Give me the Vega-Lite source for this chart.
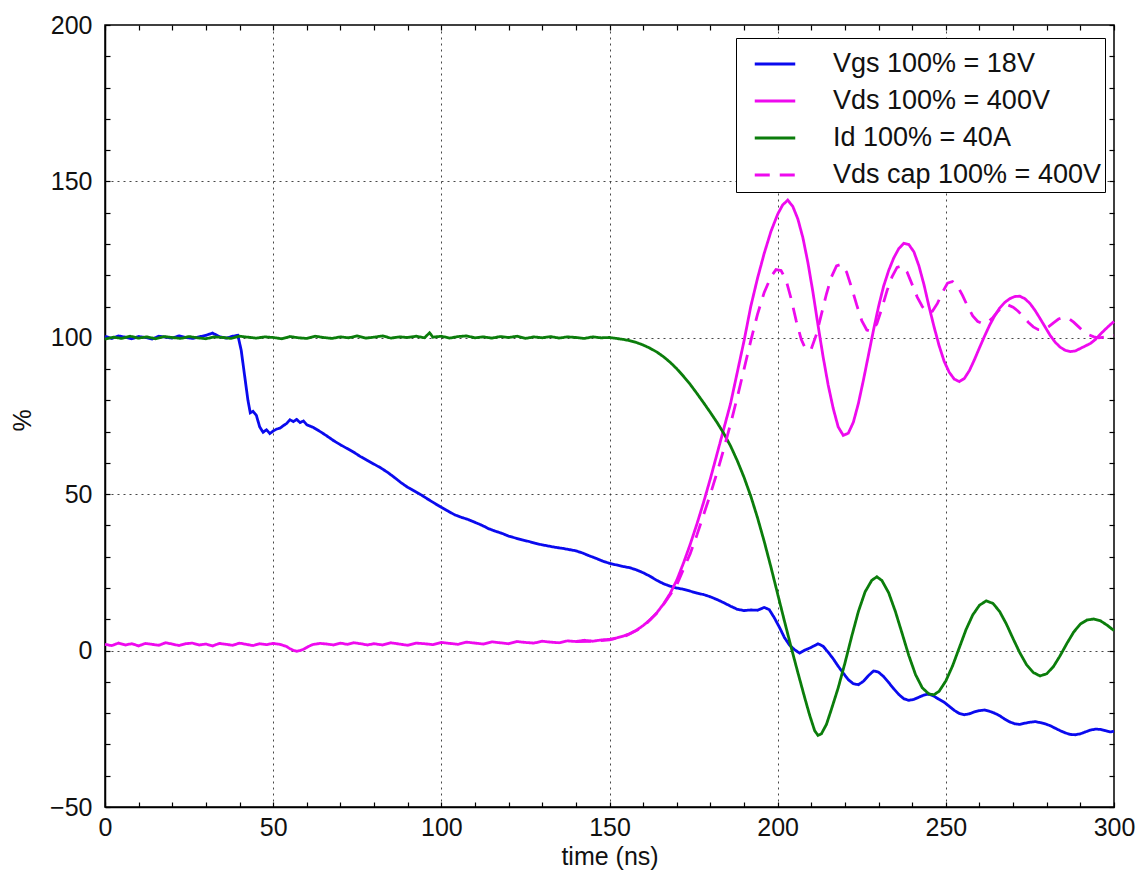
{
  "$schema": "https://vega.github.io/schema/vega-lite/v6.json",
  "width": 1009,
  "height": 782,
  "autosize": {"type": "none"},
  "padding": {"left": 105, "top": 25, "right": 31, "bottom": 76},
  "background": "white",
  "config": {
    "font": "Liberation Sans",
    "view": {"stroke": "black", "strokeWidth": 1.5}
  },
  "datasets": {
    "vgs": [
      {"t":0,"pct":100.5},{"t":2,"pct":99.8},{"t":4,"pct":100.6},{"t":6,"pct":100.2},{"t":8,"pct":99.7},{"t":10,"pct":100.4},{"t":12,"pct":100.1},{"t":14,"pct":99.6},{"t":16,"pct":100.5},{"t":18,"pct":100.2},{"t":20,"pct":99.9},{"t":22,"pct":100.6},{"t":24,"pct":100.1},{"t":26,"pct":99.8},{"t":28,"pct":100.3},{"t":30,"pct":100.8},{"t":32,"pct":101.5},{"t":34,"pct":100.4},{"t":36,"pct":99.9},{"t":38,"pct":100.5},{"t":39.5,"pct":100.8},{"t":40.5,"pct":96},{"t":41.5,"pct":88},{"t":42.5,"pct":80},{"t":43.2,"pct":76},{"t":44,"pct":76.5},{"t":45,"pct":75.2},{"t":46,"pct":71.5},{"t":47,"pct":69.8},{"t":48,"pct":70.6},{"t":49,"pct":69.4},{"t":50,"pct":70.2},{"t":51,"pct":70.8},{"t":52,"pct":71.1},{"t":53,"pct":71.9},{"t":54,"pct":72.6},{"t":55,"pct":73.8},{"t":56,"pct":73.2},{"t":57,"pct":73.9},{"t":58,"pct":72.9},{"t":59,"pct":73.4},{"t":60,"pct":72.2},{"t":62,"pct":71.3},{"t":64,"pct":70.0},{"t":66,"pct":68.6},{"t":68,"pct":67.1},{"t":70,"pct":65.8},{"t":72,"pct":64.6},{"t":74,"pct":63.4},{"t":76,"pct":62.0},{"t":78,"pct":60.8},{"t":80,"pct":59.6},{"t":82,"pct":58.4},{"t":84,"pct":57.0},{"t":86,"pct":55.4},{"t":88,"pct":53.7},{"t":90,"pct":52.2},{"t":92,"pct":51.0},{"t":94,"pct":49.8},{"t":96,"pct":48.4},{"t":98,"pct":47.1},{"t":100,"pct":45.8},{"t":102,"pct":44.6},{"t":104,"pct":43.4},{"t":106,"pct":42.6},{"t":108,"pct":41.9},{"t":110,"pct":41.0},{"t":112,"pct":40.1},{"t":114,"pct":39.0},{"t":116,"pct":38.2},{"t":118,"pct":37.5},{"t":120,"pct":36.6},{"t":122,"pct":36.0},{"t":124,"pct":35.4},{"t":126,"pct":34.9},{"t":128,"pct":34.3},{"t":130,"pct":33.8},{"t":132,"pct":33.4},{"t":134,"pct":33.0},{"t":136,"pct":32.7},{"t":138,"pct":32.3},{"t":140,"pct":31.9},{"t":142,"pct":31.2},{"t":144,"pct":30.3},{"t":146,"pct":29.5},{"t":148,"pct":28.6},{"t":150,"pct":27.9},{"t":152,"pct":27.4},{"t":154,"pct":26.9},{"t":156,"pct":26.5},{"t":158,"pct":25.8},{"t":160,"pct":24.9},{"t":162,"pct":23.8},{"t":164,"pct":22.5},{"t":166,"pct":21.4},{"t":168,"pct":20.6},{"t":170,"pct":20.0},{"t":172,"pct":19.6},{"t":174,"pct":19.0},{"t":176,"pct":18.4},{"t":178,"pct":17.9},{"t":180,"pct":17.2},{"t":182,"pct":16.3},{"t":184,"pct":15.3},{"t":186,"pct":14.2},{"t":188,"pct":13.2},{"t":190,"pct":12.8},{"t":192,"pct":13.0},{"t":194,"pct":12.9},{"t":196,"pct":13.8},{"t":197.5,"pct":13.1},{"t":199,"pct":10.5},{"t":200.5,"pct":7.5},{"t":202,"pct":4.2},{"t":203.5,"pct":1.8},{"t":205,"pct":0.3},{"t":206.5,"pct":-0.8},{"t":208,"pct":0.1},{"t":209.5,"pct":0.8},{"t":211,"pct":1.6},{"t":212,"pct":2.2},{"t":213.5,"pct":1.4},{"t":215,"pct":-0.5},{"t":216.5,"pct":-2.6},{"t":218,"pct":-5.0},{"t":219.5,"pct":-7.2},{"t":221,"pct":-9.3},{"t":222.5,"pct":-10.6},{"t":224,"pct":-10.9},{"t":225.5,"pct":-9.8},{"t":227,"pct":-8.0},{"t":228.5,"pct":-6.5},{"t":230,"pct":-6.9},{"t":231.5,"pct":-8.3},{"t":233,"pct":-10.2},{"t":234.5,"pct":-12.2},{"t":236,"pct":-14.0},{"t":237.5,"pct":-15.4},{"t":239,"pct":-15.9},{"t":240.5,"pct":-15.6},{"t":242,"pct":-14.9},{"t":243.5,"pct":-14.2},{"t":245,"pct":-13.9},{"t":246.5,"pct":-14.6},{"t":248,"pct":-15.6},{"t":249.5,"pct":-16.5},{"t":251,"pct":-17.8},{"t":252.5,"pct":-19.1},{"t":254,"pct":-20.1},{"t":255.5,"pct":-20.5},{"t":257,"pct":-20.2},{"t":258.5,"pct":-19.6},{"t":260,"pct":-19.2},{"t":261.5,"pct":-19.0},{"t":263,"pct":-19.4},{"t":264.5,"pct":-20.0},{"t":266,"pct":-20.8},{"t":267.5,"pct":-21.9},{"t":269,"pct":-22.8},{"t":270.5,"pct":-23.4},{"t":272,"pct":-23.6},{"t":273.5,"pct":-23.2},{"t":275,"pct":-22.9},{"t":276.5,"pct":-22.7},{"t":278,"pct":-23.0},{"t":279.5,"pct":-23.4},{"t":281,"pct":-24.0},{"t":282.5,"pct":-24.8},{"t":284,"pct":-25.6},{"t":285.5,"pct":-26.3},{"t":287,"pct":-26.8},{"t":288.5,"pct":-26.9},{"t":290,"pct":-26.6},{"t":291.5,"pct":-26.0},{"t":293,"pct":-25.4},{"t":294.5,"pct":-25.1},{"t":296,"pct":-25.2},{"t":297.5,"pct":-25.6},{"t":299,"pct":-26.0},{"t":300,"pct":-25.8}
    ],
    "vds": [
      {"t":0,"pct":2.0},{"t":2,"pct":1.6},{"t":4,"pct":2.4},{"t":6,"pct":1.8},{"t":8,"pct":2.2},{"t":10,"pct":1.5},{"t":12,"pct":2.3},{"t":14,"pct":2.0},{"t":16,"pct":1.7},{"t":18,"pct":2.5},{"t":20,"pct":2.1},{"t":22,"pct":1.6},{"t":24,"pct":2.2},{"t":26,"pct":2.4},{"t":28,"pct":1.8},{"t":30,"pct":2.1},{"t":32,"pct":1.5},{"t":34,"pct":2.3},{"t":36,"pct":2.0},{"t":38,"pct":1.7},{"t":40,"pct":2.4},{"t":42,"pct":2.0},{"t":44,"pct":1.6},{"t":46,"pct":2.2},{"t":48,"pct":1.9},{"t":50,"pct":2.3},{"t":52,"pct":2.0},{"t":54,"pct":1.3},{"t":55,"pct":0.6},{"t":56,"pct":0.1},{"t":57,"pct":-0.2},{"t":58,"pct":0.0},{"t":59,"pct":0.4},{"t":60,"pct":1.0},{"t":61,"pct":1.6},{"t":62,"pct":2.0},{"t":64,"pct":2.3},{"t":66,"pct":2.1},{"t":68,"pct":1.8},{"t":70,"pct":2.4},{"t":72,"pct":2.0},{"t":74,"pct":2.5},{"t":76,"pct":2.2},{"t":78,"pct":1.8},{"t":80,"pct":2.2},{"t":82.5,"pct":1.8},{"t":85,"pct":2.5},{"t":87.5,"pct":2.1},{"t":90,"pct":1.7},{"t":92.5,"pct":2.4},{"t":95,"pct":2.2},{"t":97.5,"pct":1.9},{"t":100,"pct":2.6},{"t":102.5,"pct":2.3},{"t":105,"pct":2.0},{"t":107.5,"pct":2.7},{"t":110,"pct":2.4},{"t":112.5,"pct":2.1},{"t":115,"pct":2.8},{"t":117.5,"pct":2.5},{"t":120,"pct":2.2},{"t":122.5,"pct":2.9},{"t":125,"pct":2.6},{"t":127.5,"pct":2.4},{"t":130,"pct":3.0},{"t":132.5,"pct":2.7},{"t":135,"pct":2.5},{"t":137.5,"pct":3.1},{"t":140,"pct":2.9},{"t":142.5,"pct":3.3},{"t":145,"pct":3.0},{"t":147.5,"pct":3.4},{"t":150,"pct":3.6},{"t":152,"pct":4.0},{"t":154,"pct":4.6},{"t":156,"pct":5.4},{"t":158,"pct":6.5},{"t":160,"pct":8.0},{"t":162,"pct":9.8},{"t":164,"pct":12.0},{"t":166,"pct":14.8},{"t":168,"pct":18.2},{"t":170,"pct":22.5},{"t":172,"pct":28.0},{"t":174,"pct":34.0},{"t":176,"pct":40.5},{"t":178,"pct":47.5},{"t":180,"pct":55.0},{"t":182,"pct":63.0},{"t":184,"pct":71.0},{"t":186,"pct":79.0},{"t":188,"pct":89.0},{"t":190,"pct":99.0},{"t":192,"pct":110.0},{"t":194,"pct":119.0},{"t":196,"pct":127.0},{"t":198,"pct":134.0},{"t":200,"pct":139.5},{"t":201.5,"pct":142.5},{"t":203,"pct":144.0},{"t":204.5,"pct":142.0},{"t":206,"pct":138.0},{"t":207.5,"pct":132.0},{"t":209,"pct":124.0},{"t":210.5,"pct":114.5},{"t":212,"pct":104.0},{"t":213.5,"pct":94.0},{"t":215,"pct":85.0},{"t":216.5,"pct":77.5},{"t":218,"pct":71.5},{"t":219.5,"pct":68.8},{"t":221,"pct":69.5},{"t":222.5,"pct":73.0},{"t":224,"pct":79.0},{"t":225.5,"pct":86.5},{"t":227,"pct":94.5},{"t":228.5,"pct":102.5},{"t":230,"pct":110.0},{"t":231.5,"pct":116.5},{"t":233,"pct":121.5},{"t":234.5,"pct":125.5},{"t":236,"pct":128.5},{"t":237.5,"pct":130.2},{"t":239,"pct":129.8},{"t":240.5,"pct":127.5},{"t":242,"pct":123.0},{"t":243.5,"pct":117.0},{"t":245,"pct":110.0},{"t":246.5,"pct":103.5},{"t":248,"pct":97.5},{"t":249.5,"pct":92.5},{"t":251,"pct":89.0},{"t":252.5,"pct":86.8},{"t":254,"pct":86.0},{"t":255.5,"pct":87.0},{"t":257,"pct":89.5},{"t":258.5,"pct":93.0},{"t":260,"pct":96.8},{"t":261.5,"pct":100.5},{"t":263,"pct":104.0},{"t":264.5,"pct":107.0},{"t":266,"pct":109.5},{"t":267.5,"pct":111.3},{"t":269,"pct":112.5},{"t":270.5,"pct":113.2},{"t":272,"pct":113.3},{"t":273.5,"pct":112.5},{"t":275,"pct":111.0},{"t":276.5,"pct":108.8},{"t":278,"pct":106.2},{"t":279.5,"pct":103.5},{"t":281,"pct":100.8},{"t":282.5,"pct":98.6},{"t":284,"pct":97.0},{"t":285.5,"pct":96.0},{"t":287,"pct":95.6},{"t":288.5,"pct":95.8},{"t":290,"pct":96.6},{"t":291.5,"pct":97.4},{"t":293,"pct":98.2},{"t":294.5,"pct":99.5},{"t":296,"pct":101.2},{"t":297.5,"pct":102.8},{"t":299,"pct":104.3},{"t":300,"pct":105.2}
    ],
    "id": [
      {"t":0,"pct":99.6},{"t":2.5,"pct":100.2},{"t":5,"pct":99.8},{"t":7.5,"pct":100.5},{"t":10,"pct":99.9},{"t":12.5,"pct":100.3},{"t":15,"pct":99.7},{"t":17.5,"pct":100.4},{"t":20,"pct":100.1},{"t":22.5,"pct":99.8},{"t":25,"pct":100.4},{"t":27.5,"pct":100.0},{"t":30,"pct":99.7},{"t":32.5,"pct":100.3},{"t":35,"pct":100.1},{"t":37.5,"pct":99.8},{"t":40,"pct":100.5},{"t":42.5,"pct":100.2},{"t":45,"pct":99.9},{"t":47.5,"pct":100.3},{"t":50,"pct":100.1},{"t":52.5,"pct":99.7},{"t":55,"pct":100.4},{"t":57.5,"pct":100.0},{"t":60,"pct":99.8},{"t":62.5,"pct":100.5},{"t":65,"pct":100.1},{"t":67.5,"pct":99.8},{"t":70,"pct":100.3},{"t":72.5,"pct":100.0},{"t":75,"pct":100.6},{"t":77.5,"pct":99.9},{"t":80,"pct":100.2},{"t":82.5,"pct":100.6},{"t":85,"pct":99.9},{"t":87.5,"pct":100.3},{"t":90,"pct":100.1},{"t":92.5,"pct":100.5},{"t":95,"pct":100.0},{"t":96.5,"pct":101.6},{"t":97.5,"pct":100.2},{"t":100,"pct":100.5},{"t":102.5,"pct":99.9},{"t":105,"pct":100.4},{"t":107.5,"pct":100.6},{"t":110,"pct":100.0},{"t":112.5,"pct":100.3},{"t":115,"pct":99.9},{"t":117.5,"pct":100.4},{"t":120,"pct":100.1},{"t":122.5,"pct":100.5},{"t":125,"pct":99.8},{"t":127.5,"pct":100.3},{"t":130,"pct":100.0},{"t":132.5,"pct":100.4},{"t":135,"pct":99.9},{"t":137.5,"pct":100.3},{"t":140,"pct":100.1},{"t":142.5,"pct":99.8},{"t":145,"pct":100.3},{"t":147.5,"pct":100.0},{"t":150,"pct":100.1},{"t":152,"pct":99.8},{"t":154,"pct":99.5},{"t":156,"pct":99.1},{"t":158,"pct":98.5},{"t":160,"pct":97.7},{"t":162,"pct":96.7},{"t":164,"pct":95.5},{"t":166,"pct":94.0},{"t":168,"pct":92.2},{"t":170,"pct":90.1},{"t":172,"pct":87.7},{"t":174,"pct":85.1},{"t":176,"pct":82.2},{"t":178,"pct":79.2},{"t":180,"pct":76.1},{"t":182,"pct":72.9},{"t":184,"pct":69.4},{"t":186,"pct":65.4},{"t":188,"pct":60.7},{"t":190,"pct":55.4},{"t":192,"pct":49.4},{"t":194,"pct":42.5},{"t":196,"pct":34.9},{"t":198,"pct":26.7},{"t":200,"pct":18.1},{"t":202,"pct":9.5},{"t":204,"pct":1.1},{"t":206,"pct":-7.0},{"t":208,"pct":-14.9},{"t":209.5,"pct":-20.6},{"t":211,"pct":-25.6},{"t":212,"pct":-27.1},{"t":213,"pct":-26.6},{"t":214.5,"pct":-23.6},{"t":216,"pct":-18.7},{"t":218,"pct":-11.9},{"t":220,"pct":-4.0},{"t":222,"pct":4.5},{"t":224,"pct":12.5},{"t":226,"pct":18.8},{"t":228,"pct":22.5},{"t":229.5,"pct":23.6},{"t":231,"pct":22.4},{"t":233,"pct":18.5},{"t":235,"pct":12.5},{"t":237,"pct":5.5},{"t":239,"pct":-1.6},{"t":241,"pct":-7.7},{"t":243,"pct":-11.9},{"t":245,"pct":-13.9},{"t":246.5,"pct":-14.1},{"t":248,"pct":-13.0},{"t":250,"pct":-9.7},{"t":252,"pct":-4.9},{"t":254,"pct":0.9},{"t":256,"pct":6.7},{"t":258,"pct":11.4},{"t":260,"pct":14.5},{"t":262,"pct":15.9},{"t":264,"pct":15.1},{"t":266,"pct":12.5},{"t":268,"pct":8.5},{"t":270,"pct":3.8},{"t":272,"pct":-0.7},{"t":274,"pct":-4.5},{"t":276,"pct":-7.0},{"t":278,"pct":-8.1},{"t":280,"pct":-7.4},{"t":282,"pct":-5.1},{"t":284,"pct":-1.6},{"t":286,"pct":2.3},{"t":288,"pct":5.9},{"t":290,"pct":8.5},{"t":292,"pct":9.8},{"t":294,"pct":10.1},{"t":296,"pct":9.5},{"t":298,"pct":8.1},{"t":300,"pct":6.4}
    ],
    "cap": [
      {"t":140,"pct":2.9},{"t":145,"pct":3.0},{"t":150,"pct":3.4},{"t":155,"pct":4.8},{"t":160,"pct":7.6},{"t":165,"pct":13.0},{"t":170,"pct":21.0},{"t":172,"pct":26.0},{"t":174,"pct":31.0},{"t":176,"pct":37.0},{"t":178,"pct":43.5},{"t":180,"pct":50.0},{"t":182,"pct":57.0},{"t":184,"pct":64.5},{"t":186,"pct":72.5},{"t":188,"pct":81.0},{"t":190,"pct":90.0},{"t":192,"pct":99.0},{"t":194,"pct":107.5},{"t":196,"pct":114.5},{"t":198,"pct":119.5},{"t":199.5,"pct":121.8},{"t":201,"pct":121.5},{"t":202.5,"pct":118.5},{"t":204,"pct":112.5},{"t":205.5,"pct":105.5},{"t":207,"pct":99.5},{"t":208.5,"pct":96.0},{"t":210,"pct":96.5},{"t":211.5,"pct":101.0},{"t":213,"pct":107.5},{"t":214.5,"pct":114.0},{"t":216,"pct":119.5},{"t":217.5,"pct":123.0},{"t":219,"pct":123.5},{"t":220.5,"pct":121.0},{"t":222,"pct":116.0},{"t":223.5,"pct":110.5},{"t":225,"pct":105.5},{"t":226.5,"pct":102.5},{"t":228,"pct":102.0},{"t":229.5,"pct":104.5},{"t":231,"pct":109.5},{"t":232.5,"pct":115.0},{"t":234,"pct":119.5},{"t":235.5,"pct":122.5},{"t":237,"pct":123.0},{"t":238.5,"pct":121.0},{"t":240,"pct":117.0},{"t":241.5,"pct":113.0},{"t":243,"pct":110.0},{"t":244.5,"pct":108.0},{"t":246,"pct":108.5},{"t":247.5,"pct":111.0},{"t":249,"pct":114.5},{"t":250.5,"pct":117.5},{"t":252,"pct":118.0},{"t":253.5,"pct":116.5},{"t":255,"pct":113.5},{"t":256.5,"pct":110.0},{"t":258,"pct":107.0},{"t":259.5,"pct":105.2},{"t":261,"pct":104.5},{"t":262.5,"pct":105.0},{"t":264,"pct":106.5},{"t":265.5,"pct":108.5},{"t":267,"pct":110.0},{"t":268.5,"pct":110.5},{"t":270,"pct":109.8},{"t":271.5,"pct":108.5},{"t":273,"pct":106.8},{"t":274.5,"pct":105.0},{"t":276,"pct":103.5},{"t":277.5,"pct":102.6},{"t":279,"pct":102.5},{"t":280.5,"pct":103.5},{"t":282,"pct":104.8},{"t":283.5,"pct":106.0},{"t":285,"pct":106.5},{"t":286.5,"pct":106.2},{"t":288,"pct":105.0},{"t":289.5,"pct":103.5},{"t":291,"pct":102.0},{"t":292.5,"pct":101.0},{"t":294,"pct":100.3},{"t":295.5,"pct":100.0},{"t":297,"pct":100.2},{"t":298.5,"pct":100.5},{"t":300,"pct":100.8}
    ]
  },
  "resolve": {"axis": {"x": "independent", "y": "independent"}},
  "layer": [
    {
      "data": {"name": "vgs"},
      "mark": {"type": "point", "opacity": 0},
      "encoding": {
        "x": {"field": "t", "type": "quantitative", "scale": {"domain": [0, 300], "nice": false},
          "axis": {"orient": "top", "values": [0,10,20,30,40,50,60,70,80,90,100,110,120,130,140,150,160,170,180,190,200,210,220,230,240,250,260,270,280,290,300], "tickCount": 100, "labels": false, "title": null, "grid": false, "domain": false, "tickSize": -5, "tickColor": "black", "tickWidth": 1.2}},
        "y": {"field": "pct", "type": "quantitative", "scale": {"domain": [-50, 200], "nice": false},
          "axis": {"orient": "right", "values": [-50,-40,-30,-20,-10,0,10,20,30,40,50,60,70,80,90,100,110,120,130,140,150,160,170,180,190,200], "tickCount": 100, "labels": false, "title": null, "grid": false, "domain": false, "tickSize": -5, "tickColor": "black", "tickWidth": 1.2}}
      }
    },
    {
      "layer": [
        {
          "data": {"name": "vgs"},
          "mark": {"type": "line", "strokeWidth": 2.8},
          "encoding": {
            "x": {"field": "t", "type": "quantitative"},
            "y": {"field": "pct", "type": "quantitative"},
            "color": {"datum": "Vgs 100% = 18V"},
            "strokeDash": {"datum": "Vgs 100% = 18V"}
          }
        },
        {
          "data": {"name": "vds"},
          "mark": {"type": "line", "strokeWidth": 2.8},
          "encoding": {
            "x": {"field": "t", "type": "quantitative"},
            "y": {"field": "pct", "type": "quantitative"},
            "color": {"datum": "Vds 100% = 400V"},
            "strokeDash": {"datum": "Vds 100% = 400V"}
          }
        },
        {
          "data": {"name": "id"},
          "mark": {"type": "line", "strokeWidth": 2.8},
          "encoding": {
            "x": {"field": "t", "type": "quantitative"},
            "y": {"field": "pct", "type": "quantitative"},
            "color": {"datum": "Id 100% = 40A"},
            "strokeDash": {"datum": "Id 100% = 40A"}
          }
        },
        {
          "data": {"name": "cap"},
          "mark": {"type": "line", "strokeWidth": 2.8},
          "encoding": {
            "x": {"field": "t", "type": "quantitative",
              "axis": {"orient": "bottom", "values": [0,10,20,30,40,50,60,70,80,90,100,110,120,130,140,150,160,170,180,190,200,210,220,230,240,250,260,270,280,290,300], "tickCount": 100,
                "labelExpr": "datum.value % 50 === 0 ? datum.label : ''", "labelOverlap": false, "labelFlush": false,
                "title": "time (ns)", "titleFontSize": 25, "titleFontWeight": "normal", "titleColor": "#111", "titlePadding": 4,
                "labelFontSize": 25, "labelColor": "#111", "labelPadding": 13,
                "tickSize": -5, "tickColor": "black", "tickWidth": 1.2,
                "domainColor": "black", "domainWidth": 1.5,
                "grid": true, "gridColor": "#333", "gridDash": [2, 4], "gridWidth": 1,
                "gridOpacity": {"condition": {"test": "datum.value % 50 === 0 && datum.value > 0 && datum.value < 300", "value": 0.9}, "value": 0}}},
            "y": {"field": "pct", "type": "quantitative",
              "axis": {"orient": "left", "values": [-50,-40,-30,-20,-10,0,10,20,30,40,50,60,70,80,90,100,110,120,130,140,150,160,170,180,190,200], "tickCount": 100,
                "labelExpr": "datum.value % 50 === 0 ? datum.label : ''", "labelOverlap": false, "labelFlush": false,
                "title": "%", "titleFontSize": 25, "titleFontWeight": "normal", "titleColor": "#111", "titleX": -70, "titleY": 395,
                "labelFontSize": 25, "labelColor": "#111", "labelPadding": 18,
                "tickSize": -5, "tickColor": "black", "tickWidth": 1.2,
                "domainColor": "black", "domainWidth": 1.5,
                "grid": true, "gridColor": "#333", "gridDash": [2, 4], "gridWidth": 1,
                "gridOpacity": {"condition": {"test": "datum.value % 50 === 0 && datum.value > -50 && datum.value < 200", "value": 0.9}, "value": 0}}},
            "color": {"datum": "Vds cap 100% = 400V",
              "scale": {"domain": ["Vgs 100% = 18V", "Vds 100% = 400V", "Id 100% = 40A", "Vds cap 100% = 400V"], "range": ["#0a0aee", "#ee0aee", "#0b7d0b", "#ee0aee"]},
              "legend": {"orient": "none", "legendX": 631, "legendY": 13, "title": null, "labelFontSize": 27, "labelColor": "#111", "labelLimit": 500,
                "symbolType": "stroke", "symbolSize": 1640, "symbolStrokeWidth": 2.8, "padding": 4, "symbolOffset": 13, "rowPadding": 2, "labelOffset": 36,
                "strokeColor": "black", "fillColor": "white"}},
            "strokeDash": {"datum": "Vds cap 100% = 400V",
              "scale": {"domain": ["Vgs 100% = 18V", "Vds 100% = 400V", "Id 100% = 40A", "Vds cap 100% = 400V"], "range": [[1, 0], [1, 0], [1, 0], [15, 10]]},
              "legend": {"orient": "none", "legendX": 631, "legendY": 13, "title": null, "labelFontSize": 27, "labelColor": "#111", "labelLimit": 500,
                "symbolType": "stroke", "symbolSize": 1640, "symbolStrokeWidth": 2.8, "padding": 4, "symbolOffset": 13, "rowPadding": 2, "labelOffset": 36,
                "strokeColor": "black", "fillColor": "white"}}
          }
        }
      ]
    }
  ]
}
